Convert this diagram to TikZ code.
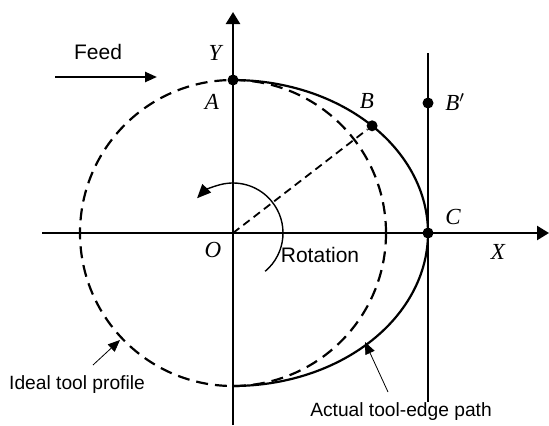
\documentclass[tikz,border=0pt]{standalone}
\usepackage{fontspec}
\setmainfont{Liberation Serif}
\newfontfamily\sansf{Liberation Sans}
\usetikzlibrary{arrows.meta}
\begin{document}
\begin{tikzpicture}[x=0.5pt,y=0.5pt,
  axis/.style={line width=1.2pt,-{Triangle[length=6pt,width=7pt]}},
  dot/.style={circle,fill=black,inner sep=0pt,minimum size=5.5pt},
  lbl/.style={font=\fontsize{11.5}{13}\selectfont\itshape,inner sep=1pt},
  sanslbl/.style={font=\sansf\fontsize{10.5}{12}\selectfont,inner sep=1pt},
  smalllbl/.style={font=\sansf\fontsize{9.6}{11}\selectfont,inner sep=1pt},
  leader/.style={line width=0.4pt,-{Triangle[length=6pt,width=5pt]}},
  idealdash/.style={line width=1.1pt,dash pattern=on 6pt off 3.5pt},
  finedash/.style={line width=0.9pt,dash pattern=on 4pt off 2.5pt}]
\useasboundingbox (0,0) rectangle (549,425);
% coordinates
\coordinate (O) at (233,192);
\coordinate (xl) at (42,192);
\coordinate (xr) at (549,192);
\coordinate (yb) at (233,0);
\coordinate (yt) at (233,413);
\coordinate (vt) at (428,372);
\coordinate (vb) at (428,23);
\coordinate (fs) at (55,348);
\coordinate (fe) at (157,348);
% curves
\draw[idealdash] (O) circle[radius=76.5pt];
\draw[line width=1.1pt] plot[domain=90:-90,samples=120] ({233+195*cos(\x)},{192+153*sin(\x)});
% axes
\draw[axis] (xl) -- (xr);
\draw[axis] (yb) -- (yt);
\draw[line width=0.9pt] (vb) -- (vt);
% points
\node[dot] (A) at (233,345) {};
\node[dot] (B) at (372.1,299.2) {};
\node[dot] (Bp) at (428,322) {};
\node[dot] (C) at (428,192) {};
\draw[finedash] (O) -- (B);
% rotation arc
\draw[line width=0.7pt,-{Triangle[length=7pt,width=6pt]}] ([shift={(-50:25pt)}]O) arc[start angle=-50,end angle=136,radius=25pt];
% feed
\draw[line width=1.2pt,-{Triangle[length=6pt,width=5pt]}] (fs) -- (fe);
\node[sanslbl] (feed) at (98,373) {Feed};
% labels
\node[lbl] (Ylbl) at (215,372) {Y};
\node[lbl] (Albl) at (212,323) {A};
\node[lbl] (Blbl) at (367,324) {B};
\node[lbl,anchor=west] (Bplbl) at (443,323) {B$'$};
\node[lbl] (Clbl) at (453,208) {C};
\node[lbl] (Xlbl) at (498,173) {X};
\node[lbl] (Olbl) at (213,175) {O};
\node[sanslbl] (rot) at (320,170) {Rotation};
% bottom labels
\node[smalllbl] (ideal) at (77,40) {Ideal tool profile};
\node[smalllbl] (actual) at (401,13) {Actual tool-edge path};
\coordinate (it) at (93,60);
\coordinate (ih) at (120,85);
\coordinate (at) at (388,33);
\coordinate (ah) at (365,83);
\draw[leader] (it) -- (ih);
\draw[leader] (at) -- (ah);
\end{tikzpicture}
\end{document}
